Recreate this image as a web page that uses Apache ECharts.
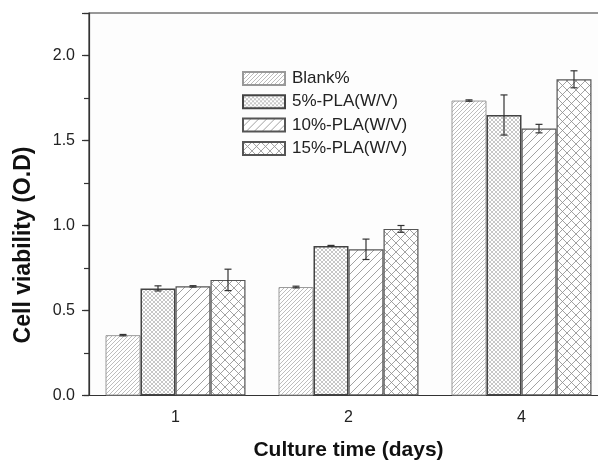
<!DOCTYPE html>
<html>
<head>
<meta charset="utf-8">
<script src="https://cdn.jsdelivr.net/npm/echarts@6/dist/echarts.min.js"></script>
<style>
html,body{margin:0;padding:0;background:#fff;}
#c{width:598px;height:460px;}
</style>
</head>
<body>
<div id="c"></div>
<script>
// ---- data ----
const categories = ['1', '2', '4'];
const seriesNames = ['Blank%', '5%-PLA(W/V)', '10%-PLA(W/V)', '15%-PLA(W/V)'];
const blankVals = [0.355, 0.638, 1.735];
const blankErr  = [0.004, 0.005, 0.004];
const pla5Vals  = [0.630, 0.880, 1.650];
const pla5Err   = [0.015, 0.003, 0.118];
const pla10Vals = [0.642, 0.860, 1.570];
const pla10Err  = [0.004, 0.060, 0.025];
const pla15Vals = [0.680, 0.980, 1.860];
const pla15Err  = [0.063, 0.020, 0.050];
const yTicks = [0, 0.5, 1.0, 1.5, 2.0];
const xTitle = 'Culture time (days)';
const yTitle = 'Cell viability (O.D)';

const allVals = [blankVals, pla5Vals, pla10Vals, pla15Vals];
const allErr = [blankErr, pla5Err, pla10Err, pla15Err];

// ---- patterns ----
function makePattern(p, color, width, fwd, back) {
  const c = document.createElement('canvas');
  c.width = p; c.height = p;
  const g = c.getContext('2d');
  g.fillStyle = '#fff';
  g.fillRect(0, 0, p, p);
  g.strokeStyle = color;
  g.lineWidth = width;
  g.beginPath();
  if (fwd) {
    g.moveTo(-1, p + 1); g.lineTo(p + 1, -1);
    g.moveTo(-1, 1); g.lineTo(1, -1);
    g.moveTo(p - 1, p + 1); g.lineTo(p + 1, p - 1);
  }
  if (back) {
    g.moveTo(-1, -1); g.lineTo(p + 1, p + 1);
    g.moveTo(p - 1, -1); g.lineTo(p + 1, 1);
    g.moveTo(-1, p - 1); g.lineTo(1, p + 1);
  }
  g.stroke();
  return { image: c, repeat: 'repeat' };
}

const patterns = [
  makePattern(4, '#a0a0a0', 0.7, true, false),
  makePattern(4, '#999', 0.55, true, true),
  makePattern(8, '#8a8a8a', 0.8, true, false),
  makePattern(9, '#8a8a8a', 0.8, true, true)
];
const borders = ['#999', '#444', '#555', '#555'];
const borderW = [1, 1.5, 1.2, 1.2];

const BAR_W = 35;
const FONT = 'Liberation Sans, Arial, sans-serif';

const barSeries = seriesNames.map((n, i) => ({
  name: n,
  type: 'bar',
  barWidth: BAR_W,
  barGap: '0%',
  data: allVals[i],
  itemStyle: { color: patterns[i], borderColor: borders[i], borderWidth: borderW[i] },
  emphasis: { disabled: true },
  z: 2
}));

const errData = [];
for (let s = 0; s < 4; s++) {
  for (let k = 0; k < categories.length; k++) {
    errData.push([k, s, allVals[s][k], allErr[s][k]]);
  }
}

const errSeries = {
  type: 'custom',
  name: 'err',
  z: 5,
  silent: true,
  encode: { x: 0, y: 2 },
  data: errData,
  renderItem: function (params, api) {
    const k = api.value(0), s = api.value(1), v = api.value(2), e = api.value(3);
    const off = (s - 1.5) * BAR_W;
    const hi = api.coord([k, v + e]);
    const lo = api.coord([k, v - e]);
    const x = hi[0] + off;
    const cw = 3.5;
    const st = { stroke: '#333', lineWidth: 1.2 };
    return {
      type: 'group',
      children: [
        { type: 'line', shape: { x1: x, y1: hi[1], x2: x, y2: lo[1] }, style: st },
        { type: 'line', shape: { x1: x - cw, y1: hi[1], x2: x + cw, y2: hi[1] }, style: st },
        { type: 'line', shape: { x1: x - cw, y1: lo[1], x2: x + cw, y2: lo[1] }, style: st }
      ]
    };
  }
};

const chart = echarts.init(document.getElementById('c'), null, { renderer: 'canvas' });
chart.setOption({
  animation: false,
  backgroundColor: '#fff',
  textStyle: { fontFamily: FONT },
  grid: {
    left: 89, top: 13, width: 519, height: 382.5,
    outerBoundsMode: 'none', containLabel: false,
    show: true, borderColor: '#333', borderWidth: 1.2, backgroundColor: '#fdfdfd'
  },
  graphic: [{
    type: 'text',
    x: 24, y: 245,
    rotation: Math.PI / 2,
    style: {
      text: yTitle, fontSize: 23, fontWeight: 'bold', fill: '#111', fontFamily: FONT,
      align: 'center', verticalAlign: 'middle'
    }
  }],
  legend: {
    data: seriesNames,
    orient: 'vertical',
    left: 242, top: 70, padding: 0,
    itemWidth: 42, itemHeight: 13, itemGap: 6.3,
    icon: 'rect',
    textStyle: { fontSize: 17, color: '#222', fontFamily: FONT, padding: [0, 0, 0, 2] },
    selectedMode: false
  },
  xAxis: [
    {
      type: 'category', data: categories,
      axisLine: { lineStyle: { color: '#333', width: 1.2 } },
      axisTick: { alignWithLabel: true, length: 6, lineStyle: { color: '#333', width: 1.2 } },
      axisLabel: { fontSize: 16, color: '#222', margin: 14, fontFamily: FONT },
      name: xTitle, nameLocation: 'middle', nameGap: 44,
      nameTextStyle: { fontSize: 21, fontWeight: 'bold', color: '#111', fontFamily: FONT }
    },
    {
      type: 'category', data: categories, position: 'bottom',
      axisLine: { show: false },
      axisTick: { length: 5, lineStyle: { color: '#333', width: 1.2 } },
      axisLabel: { show: false }
    }
  ],
  yAxis: [
    {
      type: 'value', min: 0, max: 2.25, interval: 0.25,
      axisLine: { show: true, lineStyle: { color: '#333', width: 1.2 } },
      axisTick: { show: true, length: 5, lineStyle: { color: '#333', width: 1.2 } },
      splitLine: { show: false },
      axisLabel: {
        fontSize: 16, color: '#222', margin: 14, fontFamily: FONT,
        formatter: function (v) {
          for (const t of yTicks) { if (Math.abs(t - v) < 1e-6) return t.toFixed(1); }
          return '';
        }
      }
    },
    {
      type: 'value', min: 0, max: 2.25, interval: 0.5, position: 'left',
      axisLine: { show: false },
      axisTick: { show: true, length: 7, lineStyle: { color: '#333', width: 1.2 } },
      splitLine: { show: false },
      axisLabel: { show: false }
    }
  ],
  series: barSeries.concat([errSeries])
});
</script>
</body>
</html>
